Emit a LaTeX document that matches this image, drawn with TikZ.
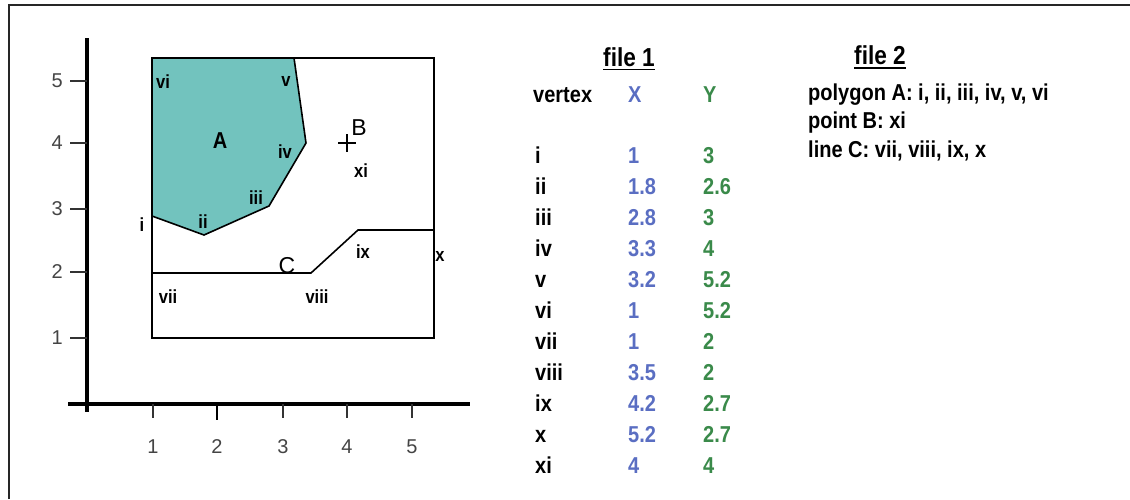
\documentclass[tikz,border=0pt]{standalone}
\usepackage{fontspec}
\setmainfont{Liberation Sans}
\newfontfamily\narrowsans[FakeStretch=0.87]{Liberation Sans}
\usetikzlibrary{calc}
\definecolor{tealfill}{HTML}{72C3BE}
\definecolor{xblue}{HTML}{5A6EC2}
\definecolor{ygreen}{HTML}{3A8A4A}
\definecolor{ticktxt}{HTML}{444444}
\newcommand{\fsz}[1]{\fontsize{#1}{#1}\selectfont}

\begin{document}
\begin{tikzpicture}[x=1pt,y=-1pt,
  frame/.style={line width=1.3pt, draw=black!85},
  axisline/.style={line width=4.2pt},
  tickmark/.style={line width=1.2pt, draw=black!80},
  ticklbl/.style={font=\fsz{20}, text=ticktxt, inner sep=0pt},
  vlbl/.style={font=\narrowsans\fsz{19}\bfseries, inner sep=0pt},
  biglbl/.style={font=\fsz{23}, inner sep=0pt},
  outline/.style={line width=1.6pt},
  tbl/.style={font=\narrowsans\fsz{23}\bfseries, anchor=base west, inner sep=0pt},
  heading/.style={font=\narrowsans\fsz{26}\bfseries, anchor=base, inner sep=0pt},
  uline/.style={line width=1.8pt}]
\useasboundingbox (0,0) rectangle (1130,499);

% page frame (left and top edges)
\draw[frame] (9,499) -- (9,5) -- (1130,5);

% ---------- map of the features ----------
\coordinate (rtl) at (152,58);
\coordinate (rbr) at (434,338);
% polygon A
\coordinate (pvi)   at (152,58);
\coordinate (pv)    at (294,58);
\coordinate (piv)   at (306,143);
\coordinate (piii)  at (269,206);
\coordinate (pii)   at (204,235);
\coordinate (pi)    at (152,216);
% line C
\coordinate (pvii)  at (152,273);
\coordinate (pviii) at (311,273);
\coordinate (pix)   at (358,230);
\coordinate (px)    at (434,230);
% point B
\coordinate (pxi)   at (347,143);

\fill[tealfill] (pvi) -- (pv) -- (piv) -- (piii) -- (pii) -- (pi) -- cycle;
\draw[outline] (pv) -- (piv) -- (piii) -- (pii) -- (pi);
\draw[outline] (pvii) -- (pviii) -- (pix) -- (px);
\draw[line width=1.5pt] (rtl) rectangle (rbr);
\draw[line width=1.2pt] ($(pxi)+(-9,0)$) -- ($(pxi)+(9,0)$)
                        ($(pxi)+(0,-9)$) -- ($(pxi)+(0,9)$);

% vertex and feature labels
\node[vlbl] (lvi)   at (163,82)  {vi};
\node[vlbl] (lv)    at (286,81)  {v};
\node[vlbl,font=\narrowsans\fsz{23}\bfseries] (lA) at (220,141) {A};
\node[vlbl] (liv)   at (285,152) {iv};
\node[vlbl] (liii)  at (256,198) {iii};
\node[vlbl] (lii)   at (203,222) {ii};
\node[vlbl] (li)    at (142,225) {i};
\node[vlbl] (lix)   at (363,252) {ix};
\node[vlbl] (lx)    at (440,256) {x};
\node[vlbl] (lvii)  at (168,297) {vii};
\node[vlbl] (lviii) at (317,297) {viii};
\node[vlbl] (lxi)   at (361,171) {xi};
\node[biglbl] (lB)  at (359,128) {B};
\node[biglbl] (lC)  at (287,266) {C};

% axes
\draw[axisline] (87,38) -- (87,412);
\draw[axisline] (68,404) -- (470,404);
\foreach \tx/\lab in {153/1, 283/3, 347/4, 412/5}{
  \draw[tickmark] (\tx,404) -- (\tx,418);
  \node[ticklbl] (xt\lab) at (\tx,447) {\lab};
}
\draw[line width=2.6pt] (217,404) -- (217,420);
\node[ticklbl] (xt2) at (217,447) {2};
\foreach \ty/\lab in {81/5, 143/4, 209/3, 272/2, 338/1}{
  \draw[tickmark] (70,\ty) -- (87,\ty);
  \node[ticklbl, anchor=east] (yt\lab) at (63,\ty) {\lab};
}

% ---------- file 1: vertex table ----------
\node[heading] (f1) at (629,66) {file 1};
\draw[uline] ($(f1.base west)+(0,3.5)$) -- ($(f1.base east)+(0,3.5)$);
\node[tbl] (hv) at (533,102) {vertex};
\node[tbl, text=xblue] (hx) at (628,102) {X};
\node[tbl, text=ygreen] (hy) at (703,102) {Y};
\foreach \r/\xv/\yv [count=\k from 0] in
  {i/1/3, ii/1.8/2.6, iii/2.8/3, iv/3.3/4, v/3.2/5.2, vi/1/5.2,
   vii/1/2, viii/3.5/2, ix/4.2/2.7, x/5.2/2.7, xi/4/4}{
  \node[tbl] (vn\k) at (535,163+31*\k) {\r};
  \node[tbl, text=xblue] (vx\k) at (628,163+31*\k) {\xv};
  \node[tbl, text=ygreen] (vy\k) at (703,163+31*\k) {\yv};
}

% ---------- file 2: feature list ----------
\node[heading] (f2) at (880,64) {file 2};
\draw[uline] ($(f2.base west)+(0,4)$) -- ($(f2.base east)+(0,4)$);
\node[tbl] (fa) at (808,100) {polygon A: i, ii, iii, iv, v, vi};
\node[tbl] (fb) at (808,128) {point B: xi};
\node[tbl] (fc) at (808,157) {line C: vii, viii, ix, x};
\end{tikzpicture}
\end{document}
